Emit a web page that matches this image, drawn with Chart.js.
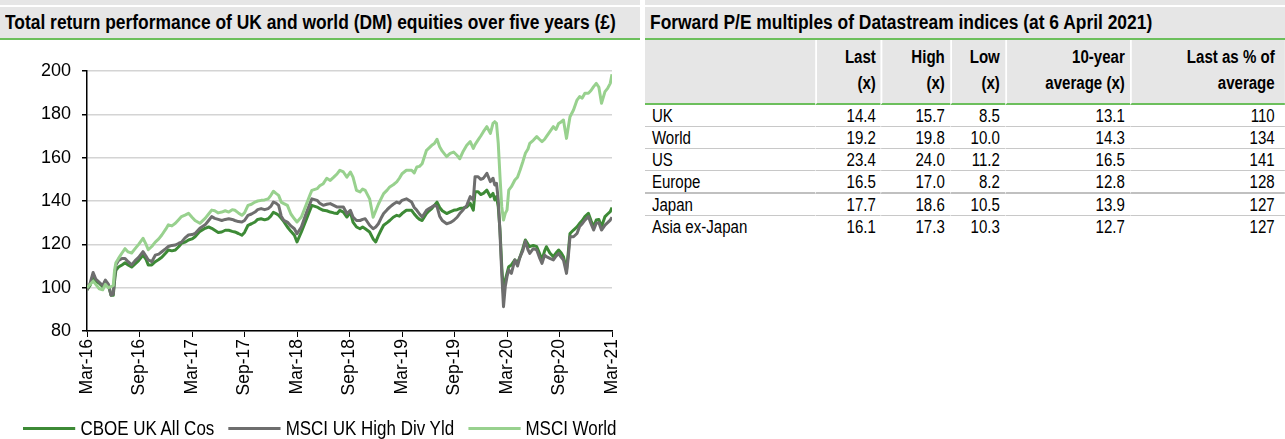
<!DOCTYPE html>
<html lang="en">
<head>
<meta charset="UTF-8">
<title>UK and world equities</title>
<script src="https://cdn.jsdelivr.net/npm/chart.js"></script>
<style>
  body { margin: 0; width: 1285px; height: 439px; overflow: hidden; background: #fff; position: relative;
         font-family: "Liberation Sans", Arial, sans-serif; color: #000; }
  .strip { position: absolute; top: 0; height: 5px; background: #e6e6e6; }
  .title { position: absolute; top: 7px; height: 33px; line-height: 31px; background: #e6e6e6; border-bottom: 2px solid #6cbf5c;
           font-weight: bold; font-size: 20px; padding-left: 5px; box-sizing: border-box; white-space: nowrap; }
  /* narrow look: squeeze the text horizontally */
  .narrow { display: inline-block; transform: scaleX(0.87); transform-origin: left center; }
  #chartBox { position: absolute; left: 0; top: 40px; width: 640px; height: 399px; }
  #legend { position: absolute; left: 23px; top: 417px; display: flex; align-items: center; font-size: 19.5px; white-space: nowrap;
            transform: scaleX(0.87); transform-origin: left center; }
  #legend .item { display: flex; align-items: center; margin-right: 16px; }
  #legend .swatch { width: 60px; height: 3px; margin-right: 6px; }
  table { position: absolute; left: 645px; top: 40px; border-collapse: separate; border-spacing: 0; font-size: 17.5px;
          table-layout: fixed; transform: scaleX(0.86); transform-origin: left top; }
  th { background: #e6e6e6; font-weight: bold; text-align: right; line-height: 26px; padding: 4px 6px 7px 0;
       border-bottom: 2px solid #6cbf5c; border-left: 2px solid #fff; vertical-align: top; box-sizing: border-box; }
  th:first-child { border-left: none; }
  td { height: 21.6px; padding: 2px 6px 0 0; text-align: right; border-bottom: 1px solid #c8c8c8; border-left: 1px solid #fff;
       line-height: 19px; box-sizing: border-box; }
  td:first-child { text-align: left; border-left: none; padding-left: 8px; }
  tr.thick td { border-bottom: 2px solid #c0c0c0; }
  tr.last td { border-bottom: none; }
  th:last-child, td:last-child { padding-right: 12px; }
</style>
</head>
<body>
<div class="strip" style="left:0;width:640px"></div>
<div class="strip" style="left:645px;width:640px"></div>
<div class="title" style="left:0;width:640px"><span class="narrow">Total return performance of UK and world (DM) equities over five years (£)</span></div>
<div class="title" style="left:645px;width:640px"><span class="narrow">Forward P/E multiples of Datastream indices (at 6 April 2021)</span></div>
<div id="chartBox"><canvas id="perfChart" width="640" height="399"></canvas></div>
<div id="legend"></div>
<table id="peTable"></table>

<script>
// months since Mar-16 (0 = Mar-16, 60 = Mar-21)
const months = [0, 0.35, 0.7, 1.0, 1.4, 1.8, 2.1, 2.45, 2.75, 3.0, 3.15, 3.3, 3.6, 4.0, 4.35, 4.7, 5.1, 5.5, 5.9, 6.4,
  6.75, 7.0, 7.4, 7.8, 8.2, 8.55, 9.0, 9.3, 9.7, 10.1, 10.5, 10.8, 11.2, 11.6, 12.0, 12.35, 12.9, 13.5, 13.9, 14.25,
  14.6, 15.0, 15.4, 15.8, 16.2, 16.6, 16.9, 17.3, 17.7, 18.0, 18.4, 18.8, 19.2, 19.5, 19.9, 20.3, 20.7, 21.0, 21.3, 21.6,
  21.9, 22.2, 22.5, 22.9, 23.3, 23.7, 24.0, 24.5, 25.1, 25.5, 25.7, 26.3, 26.6, 27.0, 27.4, 27.8, 28.2, 28.6, 28.9, 29.3,
  29.7, 30.1, 30.4, 30.8, 31.2, 31.5, 31.8, 32.3, 32.7, 33.0, 33.3, 33.6, 33.9, 34.3, 34.6, 35.0, 35.4, 35.7, 36.0, 36.5,
  37.1, 37.4, 37.7, 38.0, 38.3, 38.8, 39.1, 39.4, 39.7, 40.0, 40.3, 40.6, 41.1, 41.5, 41.9, 42.3, 42.6, 43.0, 43.4, 43.8,
  44.15, 44.35, 44.7, 45.0, 45.3, 45.7, 46.1, 46.4, 46.6, 46.8, 47.0, 47.2, 47.4, 47.6, 47.8, 48.0, 48.2, 48.5, 48.9, 49.2,
  49.5, 49.8, 50.1, 50.4, 50.6, 51.0, 51.4, 51.7, 52.0, 52.3, 52.5, 52.9, 53.3, 53.6, 53.9, 54.2, 54.45, 54.8, 55.0, 55.2,
  55.6, 56.0, 56.3, 56.6, 56.9, 57.3, 57.6, 57.9, 58.2, 58.5, 58.8, 59.2, 59.5, 59.8, 60.0];

const cboeUkAll = [99, 101, 106, 103, 102, 100.5, 103, 101, 96.5, 96.5, 103, 108, 109.5, 110.5, 111.5, 110.5, 109.5, 111, 112.5, 115,
  113, 110.5, 110.5, 112, 113, 114, 116, 117.4, 117, 117.4, 119, 120.5, 121, 122, 122.5, 123.5, 126, 127.4, 128, 127.4,
  126.5, 125.5, 125.7, 126.5, 126.5, 126, 125.7, 125, 124.2, 125.5, 128.8, 129.5, 130.3, 131.5, 131.8, 131.3, 131.8, 133, 134.8, 134.2,
  133.4, 132, 130.5, 128, 126, 124.2, 121.1, 125.7, 131.8, 136, 138, 137.2, 136.5, 135.7, 135.5, 134.9, 134.5, 134.2, 135.7, 134.9,
  132.6, 134.9, 130.3, 128, 127.2, 128, 127.2, 125.7, 122.5, 121.1, 124, 126.5, 128.8, 130, 131, 132.5, 133.4, 133, 134.2, 135.7,
  135.7, 134, 132.6, 131.5, 131, 134.2, 135.5, 136.5, 138, 139.5, 137, 135.5, 134.2, 135, 135.7, 136, 136.5, 136.8, 137.2, 138.9,
  135.8, 144.3, 144.3, 143, 143.5, 145, 142, 143.5, 140.5, 142, 137.4, 126.6, 109.7, 97.4, 103.5, 106.6, 109.7, 110.5, 112.8, 111.5,
  114.3, 118, 122, 120, 118.9, 119.5, 118.9, 116, 112.8, 117, 118.9, 116, 114.3, 116, 117.4, 116, 114.3, 108.2, 116, 125,
  126.6, 128.1, 129.7, 131, 132.8, 134.3, 131, 128.1, 131.2, 131.5, 128.1, 132.8, 134, 135.1, 137];

const msciUkHighDiv = [99, 102, 107, 104, 102.5, 101, 103.5, 101.5, 96.5, 97, 105, 110.5, 112.5, 113.5, 113.5, 112, 110.5, 112.5, 114, 116.6,
  114.5, 112.8, 112, 115, 115.5, 116.6, 118, 119, 119.5, 119.7, 120.5, 121, 123, 124.3, 124.5, 125, 127.4, 129, 131, 132.8,
  132, 131.5, 131, 131.5, 131.8, 131.5, 131, 130.5, 130.3, 131, 133.4, 134, 134.9, 136, 136.5, 136, 136.5, 137.5, 139.5, 139,
  138, 133, 131, 130.3, 128.5, 127.2, 124.9, 128, 134.9, 139, 141, 140.3, 139, 138, 138.5, 138.8, 138, 137.2, 137.2, 137.2,
  134.2, 135.7, 132.6, 131, 131, 131.5, 131.8, 128.8, 127.2, 128, 129.5, 132, 134.2, 136, 137.2, 138.5, 139.5, 139, 140.3, 141,
  139.5, 137, 135.7, 134, 132.6, 135.7, 136.5, 137.2, 138, 137.5, 133, 131, 129.5, 130, 131, 132.5, 134.2, 136, 138, 142,
  140.5, 151.2, 151.2, 150, 150.5, 152.8, 148.9, 150.5, 147.4, 148.2, 140.5, 125, 106.6, 91.2, 100.5, 105.1, 108.2, 106.6, 112.8, 110,
  114.3, 117, 121.5, 117.5, 115.8, 118, 117.4, 114, 111.2, 115, 114.3, 113.5, 112.8, 114.5, 115.8, 114, 112.8, 106.6, 114, 123.5,
  123.5, 125, 128.2, 129.5, 131.2, 132.8, 129.5, 126.6, 129.7, 130, 126.6, 128.9, 130, 131.2, 132.5];

const msciWorld = [100, 101.5, 103, 101.5, 99.5, 99, 101.5, 100, 100.5, 101, 108, 111.5, 113.5, 116, 118, 116.5, 116, 118, 120, 122.8,
  120, 117.5, 119, 121, 122.5, 124.3, 127, 129, 128.5, 129.7, 131.5, 132.8, 133.5, 134.3, 132.5, 131, 129.7, 132, 134, 135.8,
  135.5, 134.5, 134.9, 135.5, 134.9, 136, 135.7, 134.5, 133.4, 134.5, 138, 138.5, 139.5, 140, 140.3, 140.5, 141, 142.5, 144.5, 143.5,
  142.6, 139.5, 138.8, 138, 134, 131.8, 130.3, 132.6, 138.8, 143, 144.9, 145.7, 147, 148, 150.5, 149.5, 151, 152.6, 154.2, 153.4,
  151, 153.4, 151, 144.9, 144.2, 145.5, 144.9, 141, 132.5, 135.5, 138.5, 141, 143.4, 145, 146.5, 147.5, 148.8, 150.5, 152.6, 154.2,
  154.2, 153, 155.7, 156, 157.2, 163.4, 164.5, 165.7, 166.5, 168.5, 165, 163, 160.5, 162, 162.6, 161, 159.5, 163, 165.7, 167.4,
  164.3, 166, 168.2, 170, 172, 174.3, 171.2, 175.8, 176.6, 175.8, 166.6, 151.2, 137.4, 131.2, 134.3, 135.8, 145, 146.6, 149.7, 151,
  154.3, 158, 162, 164, 166.6, 168, 169.7, 168.5, 167.4, 168.5, 169.7, 172, 174.3, 173, 175.8, 176.5, 177.4, 168.9, 174, 178.9,
  182, 186.6, 188.2, 187.5, 189.7, 189.7, 191, 192.8, 194.3, 192.5, 185.1, 190.5, 192, 194.3, 198.5];

const xTickLabels = ['Mar-16', 'Sep-16', 'Mar-17', 'Sep-17', 'Mar-18', 'Sep-18', 'Mar-19', 'Sep-19', 'Mar-20', 'Sep-20', 'Mar-21'];

// P/E table
const peRegions = ['UK', 'World', 'US', 'Europe', 'Japan', 'Asia ex-Japan'];
const peLast = [14.4, 19.2, 23.4, 16.5, 17.7, 16.1];
const peHigh = [15.7, 19.8, 24.0, 17.0, 18.6, 17.3];
const peLow = [8.5, 10.0, 11.2, 8.2, 10.5, 10.3];
const peAvg10y = [13.1, 14.3, 16.5, 12.8, 13.9, 12.7];
const pePctOfAvg = [110, 134, 141, 128, 127, 127];
const peHeaders = [['', ''], ['Last', '(x)'], ['High', '(x)'], ['Low', '(x)'], ['10-year', 'average (x)'], ['Last as % of', 'average']];

function pts(vals) {
    return vals.map((v, i) => ({ x: months[i], y: v }));
}

const series = [
    { label: 'CBOE UK All Cos', data: pts(cboeUkAll), color: '#3d8a36', order: 2 },
    { label: 'MSCI UK High Div Yld', data: pts(msciUkHighDiv), color: '#6e6e6e', order: 1 },
    { label: 'MSCI World', data: pts(msciWorld), color: '#98d18e', order: 0 }
];

Chart.defaults.font.family = '"Liberation Sans", Arial, sans-serif';
Chart.defaults.color = '#000';

const ctx = document.getElementById('perfChart').getContext('2d');
const perfChart = new Chart(ctx, {
    type: 'line',
    data: {
        datasets: series.map(s => ({
            label: s.label,
            data: s.data,
            borderColor: s.color,
            backgroundColor: s.color,
            borderWidth: 3,
            pointRadius: 0,
            tension: 0,
            borderJoinStyle: 'round',
            order: s.order
        }))
    },
    options: {
        responsive: false,
        animation: false,
        devicePixelRatio: 1,
        layout: { padding: { left: 0, right: 28, top: 31, bottom: 0 } },
        plugins: { legend: { display: false }, tooltip: { enabled: false } },
        scales: {
            x: {
                type: 'linear',
                min: 0,
                max: 60,
                afterFit: (scale) => { scale.height = 108; },
                ticks: {
                    stepSize: 6,
                    autoSkip: false,
                    maxRotation: 90,
                    minRotation: 90,
                    padding: 2,
                    font: { size: 17.5 },
                    callback: (v) => xTickLabels[Math.round(v / 6)]
                },
                grid: { drawOnChartArea: false, tickColor: '#000', tickLength: 6 },
                border: { color: '#000', width: 1.5 }
            },
            y: {
                min: 80,
                max: 200,
                afterFit: (scale) => { scale.width = 87; },
                ticks: { stepSize: 20, padding: 11, font: { size: 18 } },
                grid: { color: '#d4d4d4', lineWidth: 1.5, tickColor: '#000', tickLength: 5 },
                border: { color: '#000', width: 1.5 }
            }
        }
    }
});

// legend in the reference order
const legend = document.getElementById('legend');
series.forEach(s => {
    const item = document.createElement('div');
    item.className = 'item';
    item.innerHTML = '<div class="swatch" style="background:' + s.color + '"></div><span>' + s.label + '</span>';
    legend.appendChild(item);
});

// table (drawn in squeezed coordinates, so widths are divided by the squeeze)
const squeeze = 0.86;
const colW = [170, 66, 69, 55, 125, 155];
const table = document.getElementById('peTable');
let html = '<colgroup>' + colW.map(w => '<col style="width:' + (w / squeeze).toFixed(1) + 'px">').join('') + '</colgroup>';
html += '<tr>' + peHeaders.map(h => '<th>' + (h[0] || '&nbsp;') + '<br>' + (h[1] || '&nbsp;') + '</th>').join('') + '</tr>';
peRegions.forEach((r, i) => {
    const cls = i === 3 ? ' class="thick"' : (i === peRegions.length - 1 ? ' class="last"' : '');
    html += '<tr' + cls + '><td>' + r + '</td><td>' + peLast[i].toFixed(1) + '</td><td>' + peHigh[i].toFixed(1) +
        '</td><td>' + peLow[i].toFixed(1) + '</td><td>' + peAvg10y[i].toFixed(1) + '</td><td>' + pePctOfAvg[i] + '</td></tr>';
});
table.innerHTML = html;
table.style.width = (colW.reduce((a, b) => a + b, 0) / squeeze).toFixed(1) + 'px';
</script>
</body>
</html>
